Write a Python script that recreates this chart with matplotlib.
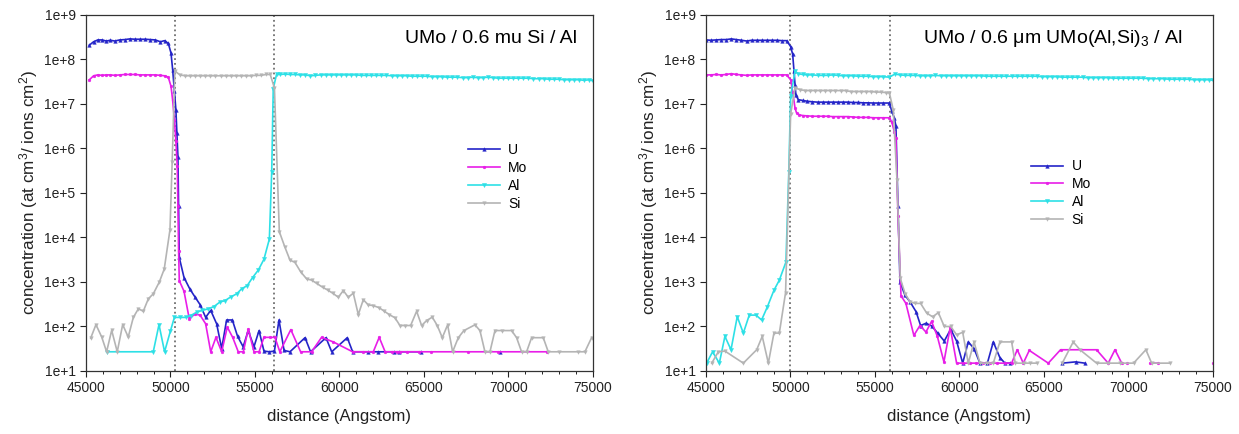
import matplotlib
matplotlib.use("Agg")
import matplotlib.pyplot as plt
import numpy as np
from matplotlib.ticker import FuncFormatter, MultipleLocator, LogLocator, NullLocator

nan = np.nan

# ---------------- lewy wykres: UMo / 0.6 mu Si / Al ----------------
u_left = [(45200, 2.1e8), (45450, 2.5e8), (45700, 2.75e8), (45950, 2.75e8), (46200, 2.6e8),
          (46450, 2.7e8), (46700, 2.6e8), (47000, 2.75e8), (47300, 2.8e8), (47600, 2.9e8),
          (47900, 2.85e8), (48200, 2.85e8), (48500, 2.85e8), (48800, 2.8e8), (49100, 2.75e8),
          (49400, 2.5e8), (49650, 2.65e8), (49870, 2.3e8), (50030, 1.4e8), (50130, 5.8e7),
          (50230, 2.0e7), (50320, 7.4e6), (50380, 2.2e6), (50440, 6.6e5), (50480, 5e4),
          (50520, 3550), (50800, 1260), (51150, 690), (51450, 460), (51750, 310), (52080, 160),
          (52380, 230), (52730, 115), (53030, 32), (53320, 140), (53660, 140), (53970, 60),
          (54300, 35), (54600, 81), (54940, 35), (55240, 81), (55530, 28), (55850, 27),
          (56150, 28), (56420, 140), (56720, 29), (57070, 27), (57960, 56), (58290, 27),
          (59200, 56), (59540, 27), (60460, 56), (60780, 27), (61700, 27), (62300, 27),
          (63200, 27), (63500, 27), (64800, 27), (65000, nan), (69500, 27)]

mo_left = [(45200, 3.5e7), (45450, 4.3e7), (45700, 4.5e7), (45950, 4.4e7), (46200, 4.5e7),
           (46450, 4.5e7), (46700, 4.4e7), (47000, 4.5e7), (47300, 4.6e7), (47600, 4.6e7),
           (47900, 4.6e7), (48200, 4.5e7), (48500, 4.5e7), (48800, 4.5e7), (49100, 4.5e7),
           (49400, 4.4e7), (49650, 4.3e7), (49870, 4.0e7), (50030, 2.5e7), (50130, 1.2e7),
           (50230, 4.4e6), (50320, 1.5e6), (50400, 4e5), (50440, 5e4), (50480, 5000),
           (50520, 1070), (50800, 620), (51110, 150), (51450, 190), (51750, 180), (52080, 115),
           (52380, 27), (52690, 57), (53030, 27), (53360, 97), (53680, 57), (54010, 27),
           (54310, 27), (54600, 88), (54940, 27), (55240, 27), (55530, 57), (55880, 57),
           (56180, 57), (56470, 27), (57120, 85), (57700, 27), (58350, 27), (58940, 57),
           (59630, 45), (60780, 27), (61400, 27), (62000, 27), (62350, 57), (62700, 27),
           (63100, 27), (63400, 27), (63600, 27), (64000, 27), (64700, 27), (65400, 27),
           (67600, 27), (69400, 27), (72250, 27)]

al_left = [(46220, 27), (48980, 27), (49320, 110), (49650, 27), (50000, 80), (50230, 160),
           (50560, 160), (50900, 160), (51190, 175), (51550, 210), (51880, 230), (52240, 250),
           (52570, 280), (52930, 355), (53220, 380), (53560, 460), (53910, 540), (54210, 700),
           (54540, 830), (54860, 1260), (55200, 1860), (55530, 3240), (55850, 9200),
           (55990, 3e5), (56080, 2.2e7), (56280, 4.7e7), (56480, 4.6e7), (56780, 4.7e7),
           (57080, 4.6e7), (57380, 4.6e7), (57680, 4.5e7), (57980, 4.5e7), (58280, 4.3e7),
           (58580, 4.4e7), (58880, 4.5e7), (59180, 4.5e7), (59480, 4.5e7), (59780, 4.5e7),
           (60080, 4.5e7), (60380, 4.5e7), (60680, 4.5e7), (60980, 4.5e7), (61280, 4.4e7),
           (61580, 4.4e7), (61880, 4.4e7), (62180, 4.4e7), (62480, 4.4e7), (62780, 4.4e7),
           (63080, 4.3e7), (63380, 4.3e7), (63680, 4.3e7), (63980, 4.3e7), (64280, 4.2e7),
           (64580, 4.2e7), (64880, 4.2e7), (65180, 4.2e7), (65480, 4.1e7), (65780, 4.1e7),
           (66080, 4.1e7), (66380, 4.0e7), (66680, 4.0e7), (66980, 4.0e7), (67280, 3.9e7),
           (67580, 3.9e7), (67880, 4.0e7), (68180, 3.9e7), (68480, 3.9e7), (68780, 4.0e7),
           (69080, 3.9e7), (69380, 3.8e7), (69680, 3.8e7), (69980, 3.8e7), (70280, 3.8e7),
           (70580, 3.8e7), (70880, 3.8e7), (71180, 3.8e7), (71480, 3.7e7), (71780, 3.7e7),
           (72080, 3.7e7), (72380, 3.6e7), (72680, 3.6e7), (72980, 3.6e7), (73280, 3.5e7),
           (73580, 3.5e7), (73880, 3.5e7), (74180, 3.5e7), (74480, 3.4e7), (74780, 3.5e7),
           (75000, 3.3e7)]

si_left = [(45280, 55), (45590, 110), (45930, 58), (46220, 27), (46520, 82), (46850, 27),
           (47170, 110), (47500, 58), (47800, 160), (48100, 250), (48390, 220), (48690, 420),
           (48980, 540), (49340, 1000), (49630, 1950), (49970, 15000), (50100, 5e5),
           (50260, 5.5e7), (50560, 4.5e7), (50860, 4.3e7), (51160, 4.3e7), (51460, 4.3e7),
           (51760, 4.3e7), (52060, 4.3e7), (52360, 4.3e7), (52660, 4.3e7), (52960, 4.3e7),
           (53260, 4.3e7), (53560, 4.3e7), (53860, 4.3e7), (54160, 4.3e7), (54460, 4.3e7),
           (54760, 4.3e7), (55060, 4.4e7), (55360, 4.4e7), (55660, 4.6e7), (55900, 4.6e7),
           (56150, 2.3e7), (56440, 1.35e4), (56775, 6000), (57070, 3100), (57366, 2750),
           (57700, 1700), (58057, 1170), (58352, 1100), (58648, 930), (59003, 760),
           (59299, 660), (59595, 560), (59930, 455), (60226, 640), (60521, 455), (60817, 560),
           (61113, 185), (61409, 400), (61705, 305), (62000, 295), (62355, 263), (62651, 220),
           (62947, 185), (63282, 157), (63578, 105), (63874, 105), (64209, 105), (64564, 220),
           (64860, 105), (65156, 136), (65491, 162), (65787, 105), (66083, 56), (66398, 109),
           (66694, 27), (67029, 56), (67364, 81), (68015, 109), (68311, 81), (68607, 27),
           (68903, 27), (69198, 81), (69593, 81), (70184, 81), (70480, 56), (70775, 27),
           (71071, 27), (71367, 56), (72057, 56), (72353, 27), (73000, 27), (74128, 27),
           (74522, 27), (74917, 56)]

# ---------------- prawy wykres: UMo / 0.6 um UMo(Al,Si)3 / Al ----------------
u_right = [(45000, 2.75e8), (45300, 2.7e8), (45600, 2.75e8), (45900, 2.8e8), (46200, 2.8e8),
           (46500, 2.9e8), (46800, 2.8e8), (47100, 2.7e8), (47400, 2.6e8), (47700, 2.7e8),
           (48000, 2.7e8), (48300, 2.7e8), (48600, 2.7e8), (48900, 2.7e8), (49200, 2.7e8),
           (49500, 2.65e8), (49770, 2.65e8), (50010, 1.95e8), (50130, 1.3e8), (50210, 5.4e7),
           (50270, 2.7e7), (50320, 1.6e7), (50460, 1.25e7), (50720, 1.2e7), (51000, 1.15e7),
           (51300, 1.12e7), (51600, 1.1e7), (51900, 1.1e7), (52200, 1.1e7), (52500, 1.1e7),
           (52800, 1.1e7), (53100, 1.1e7), (53400, 1.1e7), (53700, 1.08e7), (54000, 1.08e7),
           (54300, 1.06e7), (54600, 1.06e7), (54900, 1.05e7), (55200, 1.05e7), (55500, 1.05e7),
           (55850, 1.05e7), (55990, 7e6), (56140, 4.9e6), (56240, 3.2e6), (56360, 5e4),
           (56480, 1000), (56780, 500), (57070, 360), (57430, 215), (57700, 105), (58020, 118),
           (58350, 103), (58710, 71), (59100, 47), (59480, 87), (59830, 47), (60190, 15),
           (60520, 45), (60860, 32), (61210, 15), (61650, 15), (62000, 45), (62390, 20),
           (62690, 15), (63000, 15), (64000, nan), (66080, 15), (66870, 16), (67420, 15)]

mo_right = [(45000, 4.5e7), (45300, 4.5e7), (45600, 4.6e7), (45900, 4.5e7), (46200, 4.6e7),
            (46500, 4.8e7), (46800, 4.6e7), (47100, 4.5e7), (47400, 4.4e7), (47700, 4.5e7),
            (48000, 4.5e7), (48300, 4.5e7), (48600, 4.5e7), (48900, 4.5e7), (49200, 4.5e7),
            (49500, 4.5e7), (49770, 4.5e7), (50010, 3.5e7), (50130, 1.9e7), (50270, 8e6),
            (50360, 6.3e6), (50520, 5.7e6), (50720, 5.5e6), (51000, 5.4e6), (51300, 5.3e6),
            (51600, 5.3e6), (51900, 5.3e6), (52200, 5.3e6), (52500, 5.2e6), (52800, 5.2e6),
            (53100, 5.2e6), (53400, 5.2e6), (53700, 5.1e6), (54000, 5.0e6), (54300, 5.0e6),
            (54600, 5.0e6), (54900, 4.9e6), (55200, 4.9e6), (55500, 4.9e6), (55850, 4.9e6),
            (55990, 4e6), (56140, 2.4e6), (56240, 1.7e6), (56360, 3e4), (56540, 490),
            (56830, 330), (57300, 63), (57660, 105), (58015, 75), (58350, 130), (58690, 60),
            (59080, 16), (59450, 95), (59830, 15), (60230, 15), (60600, 15), (61000, 15),
            (61400, 15), (61800, 15), (62200, 15), (62700, 15), (63085, 15), (63420, 30),
            (63775, 15), (64130, 29), (65255, 15), (65980, 30), (68110, 30), (68800, 15),
            (69200, 30), (69600, 15), (69750, nan), (69900, 15), (70500, nan), (71300, 15),
            (71750, 15), (72500, nan), (74980, 15)]

al_right = [(45040, 15), (45390, 27), (45790, 15), (46120, 60), (46480, 30), (46850, 166),
            (47210, 71), (47560, 180), (47960, 180), (48290, 140), (48630, 275), (49020, 650),
            (49340, 1100), (49730, 2800), (49900, 3e5), (50010, 1.5e7), (50270, 5.4e7),
            (50460, 4.8e7), (50720, 4.6e7), (51000, 4.5e7), (51300, 4.5e7), (51600, 4.4e7),
            (51900, 4.4e7), (52200, 4.4e7), (52500, 4.5e7), (52800, 4.4e7), (53100, 4.3e7),
            (53400, 4.3e7), (53700, 4.3e7), (54000, 4.2e7), (54300, 4.2e7), (54600, 4.2e7),
            (54900, 4.1e7), (55200, 4.1e7), (55500, 4.1e7), (55850, 4.0e7), (56180, 4.7e7),
            (56480, 4.5e7), (56780, 4.4e7), (57080, 4.4e7), (57380, 4.4e7), (57680, 4.3e7),
            (57980, 4.3e7), (58280, 4.3e7), (58580, 4.4e7), (58880, 4.3e7), (59180, 4.3e7),
            (59480, 4.3e7), (59780, 4.3e7), (60080, 4.3e7), (60380, 4.3e7), (60680, 4.3e7),
            (60980, 4.3e7), (61280, 4.3e7), (61580, 4.2e7), (61880, 4.2e7), (62180, 4.2e7),
            (62480, 4.2e7), (62780, 4.2e7), (63080, 4.2e7), (63380, 4.2e7), (63680, 4.2e7),
            (63980, 4.2e7), (64280, 4.2e7), (64580, 4.2e7), (64880, 4.1e7), (65180, 4.1e7),
            (65480, 4.1e7), (65780, 4.1e7), (66080, 4.0e7), (66380, 4.0e7), (66680, 4.0e7),
            (66980, 4.0e7), (67280, 4.0e7), (67580, 3.9e7), (67880, 3.9e7), (68180, 3.9e7),
            (68480, 3.9e7), (68780, 3.9e7), (69080, 3.8e7), (69380, 3.8e7), (69680, 3.8e7),
            (69980, 3.8e7), (70280, 3.8e7), (70580, 3.8e7), (70880, 3.8e7), (71180, 3.7e7),
            (71480, 3.7e7), (71780, 3.7e7), (72080, 3.7e7), (72380, 3.6e7), (72680, 3.6e7),
            (72980, 3.6e7), (73280, 3.6e7), (73580, 3.6e7), (73880, 3.5e7), (74180, 3.5e7),
            (74480, 3.5e7), (74780, 3.5e7), (75000, 3.4e7)]

si_right = [(45340, 15), (45730, 27), (46120, 28), (47210, 15), (48000, 30), (48330, 60),
            (48690, 15), (49020, 71), (49340, 71), (49710, 580), (50010, 6e6), (50270, 2.3e7),
            (50560, 2.1e7), (50860, 2.0e7), (51160, 2.0e7), (51460, 2.0e7), (51760, 2.0e7),
            (52060, 2.0e7), (52360, 2.0e7), (52660, 2.0e7), (52960, 2.0e7), (53260, 2.0e7),
            (53560, 1.9e7), (53860, 1.9e7), (54160, 1.9e7), (54460, 1.9e7), (54760, 1.9e7),
            (55060, 1.85e7), (55360, 1.85e7), (55660, 1.8e7), (55850, 1.8e7), (56080, 7.4e6),
            (56300, 2e5), (56500, 1200), (56780, 550), (57070, 360), (57370, 330), (57700, 330),
            (58060, 200), (58410, 165), (58750, 205), (59100, 100), (59480, 100), (59830, 65),
            (60190, 74), (60520, 15), (60860, 45), (61210, 15), (61600, 15), (62000, 15),
            (62390, 45), (63085, 45), (63300, 15), (63800, 15), (64170, 15), (64560, 15),
            (65000, nan), (66080, 15), (66730, 45), (67130, 30), (68110, 15), (68800, 15),
            (69500, 15), (70300, 15), (71030, 30), (71370, 15), (72450, 15)]

# granice warstw (linie pionowe)
bounds_left = [50250, 56150]
bounds_right = [50000, 55900]

titles = ["UMo / 0.6 mu Si / Al", "UMo / 0.6 $\\mu$m UMo(Al,Si)$_3$ / Al"]

colors = {"U": "#2424c8", "Mo": "#e81ee8", "Al": "#2de0e6", "Si": "#b4b4b4"}
markers = {"U": "^", "Mo": "o", "Al": "v", "Si": "v"}
msize = {"U": 2.6, "Mo": 2.0, "Al": 3.0, "Si": 2.6}

plt.rcParams["font.family"] = ["Liberation Sans", "DejaVu Sans"]
plt.rcParams["mathtext.fontset"] = "custom"
plt.rcParams["mathtext.rm"] = "Liberation Sans"
plt.rcParams["mathtext.it"] = "Liberation Sans"

fig = plt.figure(figsize=(12.39, 4.34), dpi=100)
ax1 = fig.add_axes([0.0694, 0.1452, 0.4092, 0.8203])
ax2 = fig.add_axes([0.5698, 0.1452, 0.4092, 0.8203])


def panel(ax, series, bounds, title, title_x, leg_pos):
    for name, pts in series:
        x, y = zip(*pts)
        ax.plot(x, y, color=colors[name], marker=markers[name], markersize=msize[name],
                lw=1.2, label=name, markeredgewidth=0.3)
    for b in bounds:
        ax.axvline(b, color="#707070", ls=":", lw=1.3, zorder=0)
    ax.set_yscale("log")
    ax.set_xlim(45000, 75000)
    ax.set_ylim(10, 1e9)
    ax.xaxis.set_major_locator(MultipleLocator(5000))
    ax.xaxis.set_minor_locator(MultipleLocator(1000))
    ax.yaxis.set_major_locator(LogLocator(base=10, numticks=20))
    ax.yaxis.set_minor_locator(NullLocator())
    ax.yaxis.set_major_formatter(FuncFormatter(lambda v, p: "1e+%d" % round(np.log10(v))))
    ax.tick_params(axis="both", which="major", direction="out", length=4, labelsize=10,
                   colors="#222222")
    ax.tick_params(axis="x", which="minor", direction="out", length=2.5)
    ax.tick_params(top=False, right=False)
    for s in ax.spines.values():
        s.set_color("#333333")
        s.set_linewidth(0.9)
    ax.set_xlabel("distance (Angstom)", fontsize=12, color="#222222", labelpad=10)
    ax.set_ylabel("concentration (at cm$^3$/ ions cm$^2$)", fontsize=12.3, color="#222222",
                  labelpad=3)
    ax.text(title_x, 0.935, title, transform=ax.transAxes, ha="right", va="center", fontsize=14)
    ax.legend(loc="upper left", bbox_to_anchor=leg_pos, frameon=False, fontsize=10,
              handlelength=2.3, labelspacing=0.28, handletextpad=0.6, borderaxespad=0)


panel(ax1, [("U", u_left), ("Mo", mo_left), ("Al", al_left), ("Si", si_left)],
      bounds_left, titles[0], 0.968, (0.742, 0.655))
panel(ax2, [("U", u_right), ("Mo", mo_right), ("Al", al_right), ("Si", si_right)],
      bounds_right, titles[1], 0.94, (0.631, 0.61))

plt.savefig("out.png", dpi=100)
